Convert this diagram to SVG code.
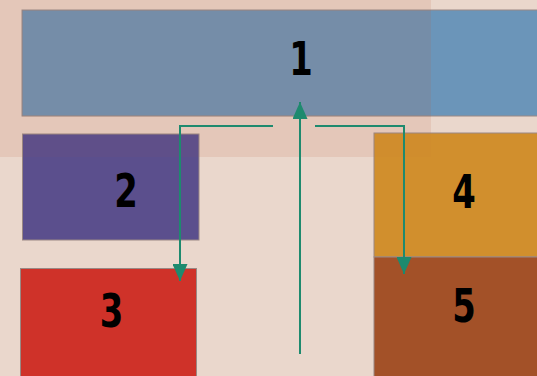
<svg xmlns="http://www.w3.org/2000/svg" width="537" height="376" viewBox="0 0 537 376">
<style>
.box{stroke:#9a8884;stroke-width:1}
.ov{fill:#c05c2e;fill-opacity:0.12}
.ov2{fill:#c05c2e;fill-opacity:0.04}
.lbl{font-family:"DejaVu Sans Condensed","DejaVu Sans",sans-serif;font-stretch:condensed;font-weight:bold;font-size:47px;fill:#000;text-anchor:middle}
.conn{fill:none;stroke:#1e8a6e;stroke-width:2}
</style>
<defs>
<marker id="arr" viewBox="0 0 17 15" refX="17" refY="7.5" markerWidth="17" markerHeight="15" markerUnits="userSpaceOnUse" orient="auto">
<path d="M0,0 L17,7.5 L0,15 Z" fill="#1e8a6e"/>
</marker>
</defs>
<rect width="537" height="376" fill="#ead7cc"/>
<rect class="ov" x="0" y="0" width="431" height="157"/>
<g id="node1"><rect class="box" x="22" y="10" width="560" height="106" fill="#6b95b9"/><rect class="ov" x="22" y="10" width="409" height="106.5"/><text class="lbl" transform="translate(301,75) scale(0.8,1)">1</text></g>
<g id="node2"><rect class="box" x="22.5" y="134" width="176.5" height="106" fill="#5b4f8d"/><rect class="ov2" x="22" y="133.5" width="177.5" height="23.5"/><text class="lbl" transform="translate(126,207) scale(0.8,1)">2</text></g>
<g id="node3"><rect class="box" x="20.5" y="268.5" width="176" height="120" fill="#cf3229"/><text class="lbl" transform="translate(111.5,327) scale(0.8,1)">3</text></g>
<g id="node4"><rect class="box" x="374" y="133" width="180" height="124" fill="#d18f2d"/><rect class="ov2" x="373.5" y="132.5" width="57.5" height="24.5"/><text class="lbl" transform="translate(464,208) scale(0.8,1)">4</text></g>
<g id="node5"><rect class="box" x="374" y="257" width="180" height="130" fill="#a35128"/><text class="lbl" transform="translate(464,322) scale(0.8,1)">5</text></g>
<g id="connectors">
<path class="conn" d="M300,354 V102" marker-end="url(#arr)"/>
<path class="conn" d="M273,126 H180 V281" marker-end="url(#arr)"/>
<path class="conn" d="M315,126 H404 V274" marker-end="url(#arr)"/>
</g>
</svg>
